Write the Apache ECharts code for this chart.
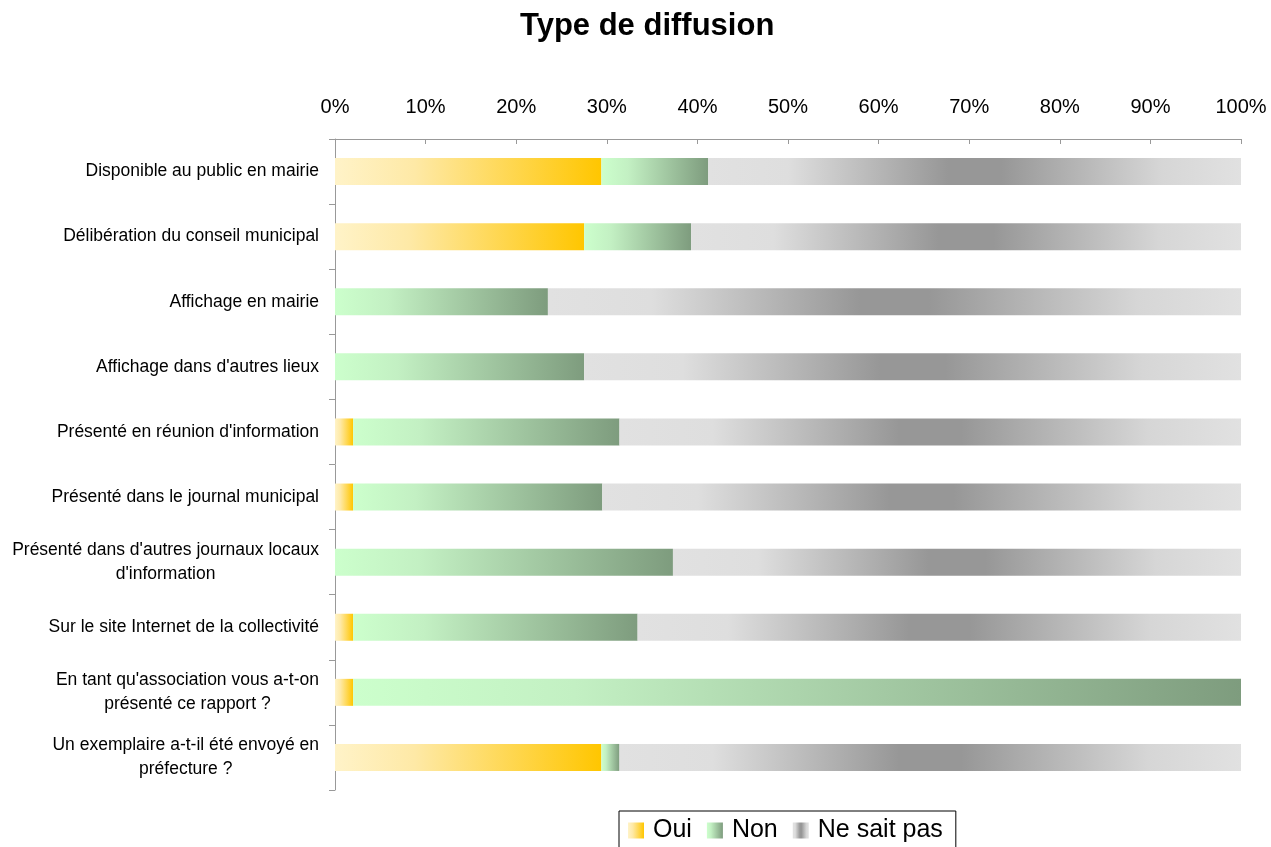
<!DOCTYPE html>
<html>
<head>
<meta charset="utf-8">
<script src="https://cdn.jsdelivr.net/npm/echarts@6/dist/echarts.min.js"></script>
<style>
  html, body { margin: 0; padding: 0; background: #fff; }
  #chart { width: 1271px; height: 847px; }
</style>
</head>
<body>
<div id="chart"></div>
<script>
// Survey answers (share of respondents, %)
const categories = [
  "Disponible au public en mairie",
  "Délibération du conseil municipal",
  "Affichage en mairie",
  "Affichage dans d'autres lieux",
  "Présenté en réunion d'information",
  "Présenté dans le journal municipal",
  "Présenté dans d'autres journaux locaux\nd'information",
  "Sur le site Internet de la collectivité",
  "En tant qu'association vous a-t-on\nprésenté ce rapport ?",
  "Un exemplaire a-t-il été envoyé en\npréfecture ?"
];
const oui       = [29.4, 27.5, 0, 0, 2.0, 2.0, 0, 2.0, 2.0, 29.4];
const non       = [11.8, 11.8, 23.5, 27.5, 29.4, 27.5, 37.3, 31.4, 98.0, 2.0];
const neSaitPas = [58.8, 60.7, 76.5, 72.5, 68.6, 70.5, 62.7, 66.6, 0, 68.6];
const xTicks = [0, 10, 20, 30, 40, 50, 60, 70, 80, 90, 100];

function hGrad(stops) {
  return new echarts.graphic.LinearGradient(0, 0, 1, 0,
    stops.map(s => ({ offset: s[0], color: s[1] })));
}
const ouiColor = hGrad([[0, '#fff3c8'], [0.3, '#fee9a6'], [1, '#ffc600']]);
const nonColor = hGrad([[0, '#ccffcc'], [0.25, '#c3f0c3'], [1, '#7e9c7e']]);
const nspColor = hGrad([[0, '#e1e1e1'], [0.15, '#dedede'], [0.45, '#979797'], [0.55, '#979797'], [0.85, '#d6d6d6'], [1, '#e1e1e1']]);

const font = "'Liberation Sans', Arial, sans-serif";

const chart = echarts.init(document.getElementById('chart'), null, { renderer: 'canvas' });
const barW = 27;

function series(name, data, color) {
  return {
    name, type: 'bar', stack: 'total', data,
    barWidth: barW,
    itemStyle: { color },
    emphasis: { disabled: true },
    animation: false
  };
}

chart.setOption({
  animation: false,
  backgroundColor: '#ffffff',
  title: {
    text: 'Type de diffusion',
    left: 515,
    top: 6,
    textStyle: { fontFamily: font, fontWeight: 'bold', fontSize: 31, color: '#000' }
  },
  legend: {
    bottom: -8,
    left: 619,
    icon: 'rect',
    itemWidth: 16,
    itemHeight: 16,
    itemGap: 15,
    padding: [7, 13, 12, 9],
    borderColor: '#000',
    borderWidth: 1,
    textStyle: { fontFamily: font, fontSize: 25, color: '#000', padding: [0, 0, 0, 4] },
    data: ['Oui', 'Non', 'Ne sait pas']
  },
  grid: { left: 335, right: 30, top: 139, bottom: 57, containLabel: false },
  xAxis: {
    type: 'value',
    position: 'top',
    min: 0, max: 100, interval: 10,
    axisLine: { show: true, lineStyle: { color: '#999', width: 1 } },
    axisTick: { show: true, inside: true, length: 5, lineStyle: { color: '#999' } },
    splitLine: { show: false },
    axisLabel: {
      formatter: v => xTicks.includes(v) ? v + '%' : '',
      margin: 22,
      fontFamily: font, fontSize: 20, color: '#000'
    }
  },
  yAxis: {
    type: 'category',
    inverse: true,
    data: categories,
    axisLine: { show: true, lineStyle: { color: '#999', width: 1 } },
    axisTick: { show: true, length: 6, lineStyle: { color: '#999' } },
    axisLabel: {
      margin: 16,
      fontFamily: font, fontSize: 17.5, color: '#000', lineHeight: 24,
      formatter: v => v.split('\n').map(l => '{c|' + l + '}').join('\n'),
      rich: { c: { align: 'center', fontFamily: font, fontSize: 17.5, color: '#000', lineHeight: 24 } }
    }
  },
  series: [
    series('Oui', oui, ouiColor),
    series('Non', non, nonColor),
    series('Ne sait pas', neSaitPas, nspColor)
  ]
});
</script>
</body>
</html>
